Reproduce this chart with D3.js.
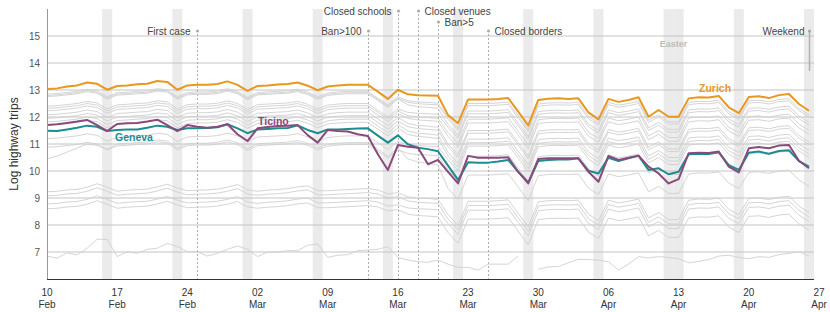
<!DOCTYPE html>
<html>
<head>
<meta charset="utf-8">
<script src="https://cdn.jsdelivr.net/npm/d3@7"></script>
<style>
  body { margin: 0; background: #fff; }
  svg { font-family: "Liberation Sans", Arial, sans-serif; }
</style>
</head>
<body>
<script>
// daily log highway trips per canton, 10 Feb - 26 Apr 2020 (one value per day)
var zurich = [
  13.04,13.06,13.13,13.17,13.28,13.23,13.01, 13.15,13.17,13.21,13.23,13.33,13.30,13.01,
  13.17,13.19,13.19,13.22,13.32,13.19,12.97, 13.15,13.17,13.20,13.22,13.28,13.16,12.99,
  13.13,13.17,13.19,13.19,13.19,12.94,12.67, 13.01,12.84,12.81,12.80,12.79,12.07,11.77,
  12.65,12.65,12.65,12.67,12.70,12.20,11.69, 12.63,12.68,12.69,12.67,12.69,12.17,11.91,
  12.67,12.56,12.63,12.73,12.01,12.26,12.01, 12.01,12.69,12.73,12.72,12.78,12.36,12.14,
  12.74,12.77,12.70,12.81,12.85,12.48,12.23];
var ticino = [
  11.70,11.73,11.78,11.83,11.89,11.70,11.48, 11.74,11.77,11.78,11.83,11.90,11.70,11.48,
  11.70,11.64,11.60,11.64,11.73,11.36,11.11, 11.58,11.63,11.67,11.68,11.70,11.33,11.05,
  11.52,11.48,11.46,11.36,11.30,10.62,10.04, 10.96,10.90,10.86,10.25,10.41,9.97,9.54,
  10.56,10.49,10.49,10.49,10.51,9.97,9.54, 10.44,10.47,10.47,10.47,10.47,9.97,9.60,
  10.56,10.41,10.49,10.57,10.16,9.91,9.54, 9.70,10.66,10.68,10.67,10.72,10.16,9.95,
  10.84,10.89,10.84,10.94,10.96,10.38,10.10];
var geneva = [
  11.49,11.48,11.54,11.60,11.68,11.64,11.48, 11.52,11.54,11.54,11.60,11.68,11.64,11.52,
  11.58,11.58,11.59,11.62,11.73,11.58,11.40, 11.54,11.56,11.58,11.59,11.69,11.52,11.40,
  11.54,11.54,11.56,11.57,11.58,11.31,11.05, 11.32,10.99,10.86,10.81,10.73,10.20,9.67,
  10.32,10.31,10.31,10.35,10.41,9.97,9.58, 10.37,10.41,10.43,10.43,10.47,10.01,9.91,
  10.49,10.37,10.47,10.56,10.04,10.10,9.88, 9.97,10.62,10.64,10.63,10.69,10.22,10.04,
  10.68,10.72,10.64,10.74,10.77,10.37,10.16];

// the other cantons, drawn in grey
var otherCantons = [
 [12.85,12.87,12.91,12.95,13.03,12.97,12.75, 12.90,12.92,12.95,12.97,13.05,13.01,12.75,
  12.91,12.93,12.93,12.96,13.05,12.95,12.73, 12.91,12.93,12.95,12.97,13.03,12.92,12.75,
  12.89,12.93,12.95,12.95,12.95,12.70,12.45, 12.75,12.60,12.56,12.54,12.51,12.00,11.60,
  12.50,12.50,12.50,12.52,12.55,12.05,11.55, 12.48,12.52,12.53,12.52,12.54,12.02,11.78,
  12.54,12.44,12.50,12.58,11.88,12.08,11.82, 11.82,12.54,12.58,12.57,12.62,12.20,12.00,
  12.60,12.62,12.56,12.65,12.68,12.32,12.08],
 [12.80,12.82,12.86,12.90,12.98,12.92,12.70, 12.85,12.87,12.90,12.92,13.00,12.96,12.70,
  12.86,12.88,12.88,12.91,13.00,12.90,12.68, 12.86,12.88,12.90,12.92,12.98,12.87,12.70,
  12.84,12.88,12.90,12.90,12.90,12.65,12.40, 12.70,12.54,12.49,12.47,12.45,11.92,11.52,
  12.42,12.42,12.42,12.44,12.47,11.97,11.47, 12.40,12.44,12.45,12.44,12.46,11.94,11.70,
  12.46,12.36,12.42,12.50,11.80,12.00,11.74, 11.74,12.46,12.50,12.49,12.54,12.12,11.92,
  12.52,12.54,12.48,12.57,12.60,12.24,12.00],
 [12.76,12.78,12.82,12.86,12.94,12.88,12.66, 12.81,12.83,12.86,12.88,12.96,12.92,12.66,
  12.82,12.84,12.84,12.87,12.96,12.86,12.64, 12.82,12.84,12.86,12.88,12.94,12.83,12.66,
  12.80,12.84,12.86,12.86,12.86,12.61,12.36, 12.66,12.45,12.38,12.36,12.32,11.72,11.32,
  12.22,12.22,12.22,12.24,12.27,11.77,11.27, 12.20,12.24,12.25,12.24,12.26,11.74,11.50,
  12.26,12.16,12.22,12.30,11.60,11.80,11.54, 11.54,12.26,12.30,12.29,12.34,11.92,11.72,
  12.32,12.34,12.28,12.37,12.40,12.04,11.80],
 [12.40,12.42,12.46,12.50,12.58,12.52,12.30, 12.45,12.47,12.50,12.52,12.60,12.56,12.30,
  12.46,12.48,12.48,12.51,12.60,12.50,12.28, 12.46,12.48,12.50,12.52,12.58,12.47,12.30,
  12.44,12.48,12.50,12.50,12.50,12.25,12.00, 12.30,12.17,12.14,12.12,12.10,11.62,11.22,
  12.12,12.12,12.12,12.14,12.17,11.67,11.17, 12.10,12.14,12.15,12.14,12.16,11.64,11.40,
  12.16,12.06,12.12,12.20,11.50,11.70,11.44, 11.44,12.16,12.20,12.19,12.24,11.82,11.62,
  12.22,12.24,12.18,12.27,12.30,11.94,11.70],
 [12.32,12.34,12.38,12.42,12.50,12.44,12.22, 12.37,12.39,12.42,12.44,12.52,12.48,12.22,
  12.38,12.40,12.40,12.43,12.52,12.42,12.20, 12.38,12.40,12.42,12.44,12.50,12.39,12.22,
  12.36,12.40,12.42,12.42,12.42,12.17,11.92, 12.22,12.05,12.00,11.98,11.95,11.42,11.02,
  11.92,11.92,11.92,11.94,11.97,11.47,10.97, 11.90,11.94,11.95,11.94,11.96,11.44,11.20,
  11.96,11.86,11.92,12.00,11.30,11.50,11.24, 11.24,11.96,12.00,11.99,12.04,11.62,11.42,
  12.02,12.04,11.98,12.07,12.10,11.74,11.50],
 [12.23,12.25,12.29,12.33,12.41,12.35,12.13, 12.28,12.30,12.33,12.35,12.43,12.39,12.13,
  12.29,12.31,12.31,12.34,12.43,12.33,12.11, 12.29,12.31,12.33,12.35,12.41,12.30,12.13,
  12.27,12.31,12.33,12.33,12.33,12.08,11.83, 12.13,11.95,11.89,11.87,11.84,11.28,10.88,
  11.78,11.78,11.78,11.80,11.83,11.33,10.83, 11.76,11.80,11.81,11.80,11.82,11.30,11.06,
  11.82,11.72,11.78,11.86,11.16,11.36,11.10, 11.10,11.82,11.86,11.85,11.90,11.48,11.28,
  11.88,11.90,11.84,11.93,11.96,11.60,11.36],
 [12.08,12.10,12.14,12.18,12.26,12.20,11.98, 12.13,12.15,12.18,12.20,12.28,12.24,11.98,
  12.14,12.16,12.16,12.19,12.28,12.18,11.96, 12.14,12.16,12.18,12.20,12.26,12.15,11.98,
  12.12,12.16,12.18,12.18,12.18,11.93,11.68, 11.98,11.76,11.69,11.66,11.62,11.00,10.60,
  11.50,11.50,11.50,11.52,11.55,11.05,10.55, 11.48,11.52,11.53,11.52,11.54,11.02,10.78,
  11.54,11.44,11.50,11.58,10.88,11.08,10.82, 10.82,11.54,11.58,11.57,11.62,11.20,11.00,
  11.60,11.62,11.56,11.65,11.68,11.32,11.08],
 [11.95,11.97,12.01,12.05,12.13,12.07,11.85, 12.00,12.02,12.05,12.07,12.15,12.11,11.85,
  12.01,12.03,12.03,12.06,12.15,12.05,11.83, 12.01,12.03,12.05,12.07,12.13,12.02,11.85,
  11.99,12.03,12.05,12.05,12.05,11.80,11.55, 11.85,11.64,11.57,11.54,11.51,10.90,10.50,
  11.40,11.40,11.40,11.42,11.45,10.95,10.45, 11.38,11.42,11.43,11.42,11.44,10.92,10.68,
  11.44,11.34,11.40,11.48,10.78,10.98,10.72, 10.72,11.44,11.48,11.47,11.52,11.10,10.90,
  11.50,11.52,11.46,11.55,11.58,11.22,10.98],
 [11.82,11.84,11.88,11.92,12.00,11.94,11.72, 11.87,11.89,11.92,11.94,12.02,11.98,11.72,
  11.88,11.90,11.90,11.93,12.02,11.92,11.70, 11.88,11.90,11.92,11.94,12.00,11.89,11.72,
  11.86,11.90,11.92,11.92,11.92,11.67,11.42, 11.72,11.48,11.40,11.37,11.33,10.68,10.28,
  11.18,11.18,11.18,11.20,11.23,10.73,10.23, 11.16,11.20,11.21,11.20,11.22,10.70,10.46,
  11.22,11.12,11.18,11.26,10.56,10.76,10.50, 10.50,11.22,11.26,11.25,11.30,10.88,10.68,
  11.28,11.30,11.24,11.33,11.36,11.00,10.76],
 [11.70,11.72,11.76,11.80,11.88,11.82,11.60, 11.75,11.77,11.80,11.82,11.90,11.86,11.60,
  11.76,11.78,11.78,11.81,11.90,11.80,11.58, 11.76,11.78,11.80,11.82,11.88,11.77,11.60,
  11.74,11.78,11.80,11.80,11.80,11.55,11.30, 11.60,11.35,11.28,11.25,11.20,10.55,10.15,
  11.05,11.05,11.05,11.07,11.10,10.60,10.10, 11.03,11.07,11.08,11.07,11.09,10.57,10.33,
  11.09,10.99,11.05,11.13,10.43,10.63,10.37, 10.37,11.09,11.13,11.12,11.17,10.75,10.55,
  11.15,11.17,11.11,11.20,11.23,10.87,10.63],
 [11.20,11.22,11.26,11.30,11.38,11.32,11.10, 11.25,11.27,11.30,11.32,11.40,11.36,11.10,
  11.26,11.28,11.28,11.31,11.40,11.30,11.08, 11.26,11.28,11.30,11.32,11.38,11.27,11.10,
  11.24,11.28,11.30,11.30,11.30,11.05,10.80, 11.10,10.97,10.94,10.92,10.90,10.42,10.02,
  10.92,10.92,10.92,10.94,10.97,10.47,9.97, 10.90,10.94,10.95,10.94,10.96,10.44,10.20,
  10.96,10.86,10.92,11.00,10.30,10.50,10.24, 10.24,10.96,11.00,10.99,11.04,10.62,10.42,
  11.02,11.04,10.98,11.07,11.10,10.74,10.50],
 [10.45,10.55,10.70,10.85,11.00,10.95,10.80, 11.00,11.02,11.05,11.07,11.15,11.11,10.85,
  11.01,11.03,11.03,11.06,11.15,11.05,10.83, 11.01,11.03,11.05,11.07,11.13,11.02,10.85,
  10.99,11.03,11.05,11.05,11.05,10.80,10.55, 10.85,10.45,10.33,10.29,10.21,9.35,8.95,
  9.85,9.85,9.85,9.87,9.90,9.40,8.90, 9.83,9.87,9.88,9.87,9.89,9.37,9.13,
  9.89,9.79,9.85,9.93,9.23,9.43,9.17, 9.17,9.89,9.93,9.92,9.97,9.55,9.35,
  9.95,9.97,9.91,10.00,10.03,9.67,9.43],
 [10.88,10.90,10.94,10.98,11.06,11.00,10.78, 10.93,10.95,10.98,11.00,11.08,11.04,10.78,
  10.94,10.96,10.96,10.99,11.08,10.98,10.76, 10.94,10.96,10.98,11.00,11.06,10.95,10.78,
  10.92,10.96,10.98,10.98,10.98,10.73,10.48, 10.78,10.65,10.61,10.59,10.57,10.05,9.65,
  10.55,10.55,10.55,10.57,10.60,10.10,9.60, 10.53,10.57,10.58,10.57,10.59,10.07,9.83,
  10.59,10.49,10.55,10.63,9.93,10.13,9.87, 9.87,10.59,10.63,10.62,10.67,10.25,10.05,
  10.65,10.67,10.61,10.70,10.73,10.37,10.13],
 [9.23,9.25,9.30,9.32,9.40,9.53,9.40, 9.25,9.29,9.31,9.33,9.41,9.51,9.37,
  9.27,9.29,9.30,9.33,9.40,9.50,9.30, 9.25,9.29,9.31,9.35,9.41,9.45,9.27,
  9.27,9.29,9.31,9.33,9.35,9.30,9.15, 9.20,9.04,9.00,8.98,8.95,8.38,7.98,
  8.88,8.88,8.88,8.90,8.93,8.43,7.93, 8.86,8.90,8.91,8.90,8.92,8.40,8.16,
  8.92,8.82,8.88,8.96,8.26,8.46,8.20, 8.20,8.92,8.96,8.95,9.00,8.58,8.38,
  8.98,9.00,8.94,9.03,9.06,8.70,8.46],
 [9.08,9.10,9.15,9.17,9.25,9.38,9.25, 9.10,9.14,9.16,9.18,9.26,9.36,9.22,
  9.12,9.14,9.15,9.18,9.25,9.35,9.15, 9.10,9.14,9.16,9.20,9.26,9.30,9.12,
  9.12,9.14,9.16,9.18,9.20,9.15,9.00, 9.05,8.89,8.84,8.82,8.80,8.22,7.82,
  8.72,8.72,8.72,8.74,8.77,8.27,7.77, 8.70,8.74,8.75,8.74,8.76,8.24,8.00,
  8.76,8.66,8.72,8.80,8.10,8.30,8.04, 8.04,8.76,8.80,8.79,8.84,8.42,8.22,
  8.82,8.84,8.78,8.87,8.90,8.54,8.30],
 [8.78,8.80,8.85,8.87,8.95,9.08,8.95, 8.80,8.84,8.86,8.88,8.96,9.06,8.92,
  8.82,8.84,8.85,8.88,8.95,9.05,8.85, 8.80,8.84,8.86,8.90,8.96,9.00,8.82,
  8.82,8.84,8.86,8.88,8.90,8.85,8.70, 8.75,8.63,8.60,8.59,8.56,8.05,7.65,
  8.55,8.55,8.55,8.57,8.60,8.10,7.60, 8.53,8.57,8.58,8.57,8.59,8.07,7.83,
  8.59,8.49,8.55,8.63,7.93,8.13,7.87, 7.87,8.59,8.63,8.62,8.67,8.25,8.05,
  8.65,8.67,8.61,8.70,8.73,8.37,8.13],
 [8.60,8.62,8.67,8.69,8.77,8.90,8.77, 8.62,8.66,8.68,8.70,8.78,8.88,8.74,
  8.64,8.66,8.67,8.70,8.77,8.87,8.67, 8.62,8.66,8.68,8.72,8.78,8.82,8.64,
  8.64,8.66,8.68,8.70,8.72,8.67,8.52, 8.57,8.40,8.35,8.33,8.30,7.72,7.32,
  8.22,8.22,8.22,8.24,8.27,7.77,7.27, 8.20,8.24,8.25,8.24,8.26,7.74,7.50,
  8.26,8.16,8.22,8.30,7.60,7.80,7.54, 7.54,8.26,8.30,8.29,8.34,7.92,7.72,
  8.32,8.34,8.28,8.37,8.40,8.04,7.80],
 [6.85,6.77,6.97,6.89,7.14,7.47,7.47, 6.83,7.01,6.95,7.10,7.14,7.32,7.20,
  7.01,7.01,6.85,6.95,7.10,7.22,7.10, 6.83,7.00,7.00,7.05,7.05,7.25,7.30,
  6.80,6.88,6.90,7.05,7.07,7.10,7.20, 6.80,6.70,6.64,6.62,6.70,6.55,6.43,
  6.43,6.33,6.55,6.55,6.55,6.85,null, 6.36,6.45,6.46,6.60,6.73,6.72,6.70,
  6.64,6.33,6.55,6.83,6.78,6.83,6.80, 6.75,6.60,6.65,6.72,6.85,6.88,6.80,
  6.75,6.83,6.80,6.90,6.95,7.01,6.85]
];

var highlighted = [
  { name: "Geneva", values: geneva, color: "#1d8c8f" },
  { name: "Ticino", values: ticino, color: "#8a4a7c" },
  { name: "Zurich", values: zurich, color: "#e9971f" }
];

var yTicks = [7, 8, 9, 10, 11, 12, 13, 14, 15];

var events = [
  { label: "First case", date: "2020-02-25" },
  { label: "Ban>100", date: "2020-03-13" },
  { label: "Closed schools", date: "2020-03-16" },
  { label: "Closed venues", date: "2020-03-18" },
  { label: "Ban>5", date: "2020-03-20" },
  { label: "Closed borders", date: "2020-03-25" }
];
// weekend / holiday days that get a shaded band
var shadedDays = ["2020-02-16", "2020-02-23", "2020-03-01", "2020-03-08", "2020-03-15",
  "2020-03-22", "2020-03-29", "2020-04-05", "2020-04-12", "2020-04-13", "2020-04-19", "2020-04-26"];

//label placement for the events: row and side
var eventLayout = {
  "First case": { y: 31, side: "left" },
  "Ban>100": { y: 31, side: "left" },
  "Closed schools": { y: 11, side: "left" },
  "Closed venues": { y: 11, side: "right" },
  "Ban>5": { y: 22, side: "right" },
  "Closed borders": { y: 31, side: "right" }
};
var labelLayout = {
  Zurich: { x: 699, y: 88 },
  Ticino: { x: 258, y: 121 },
  Geneva: { x: 115, y: 137 }
};

var parse = d3.utcParse("%Y-%m-%d");
var start = parse("2020-02-10");
var end = parse("2020-04-27");
var days = d3.utcDay.range(start, end);

var width = 830, height = 312;
var x = d3.scaleUtc().domain([start, end]).range([47, 819]);
var y = d3.scaleLinear().domain([6, 16]).range([279, 9]);
var dayW = x(d3.utcDay.offset(start, 1)) - x(start);
var plotRight = x(end) - dayW / 2;

var svg = d3.select("body").append("svg")
    .attr("width", width)
    .attr("height", height);

//shaded weekend bands
svg.append("g").selectAll("rect")
    .data(shadedDays.map(parse))
  .enter().append("rect")
    .attr("x", d => x(d) - dayW / 2)
    .attr("width", dayW)
    .attr("y", y(16))
    .attr("height", y(6) - y(16))
    .attr("fill", "#ebebeb");

//grid
svg.append("g").selectAll("line")
    .data(yTicks)
  .enter().append("line")
    .attr("x1", x(start))
    .attr("x2", plotRight)
    .attr("y1", d => y(d))
    .attr("y2", d => y(d))
    .attr("stroke", "#c4c4c4")
    .attr("stroke-width", 1);

svg.append("g").selectAll("text")
    .data(yTicks)
  .enter().append("text")
    .attr("x", 40)
    .attr("y", d => y(d))
    .attr("dy", "0.35em")
    .attr("text-anchor", "end")
    .attr("font-size", 10)
    .attr("fill", "#555")
    .text(d => d);

svg.append("text")
    .attr("class", "easter")
    .attr("x", x(parse("2020-04-12")) + dayW / 2)
    .attr("y", 44)
    .attr("dy", "0.35em")
    .attr("text-anchor", "middle")
    .attr("font-size", 9)
    .attr("font-weight", "bold")
    .attr("fill", "#bdbdbd")
    .text("Easter");

//event markers
var ev = svg.append("g").selectAll("g")
    .data(events)
  .enter().append("g")
    .attr("transform", d => "translate(" + Math.round(x(parse(d.date))) + ".5,0)");
ev.append("line")
    .attr("y1", d => eventLayout[d.label].y + 3)
    .attr("y2", y(6))
    .attr("stroke", "#9a9a9a")
    .attr("stroke-width", 0.8)
    .attr("stroke-dasharray", "2,2");
ev.append("circle")
    .attr("cy", d => eventLayout[d.label].y)
    .attr("r", 1.5)
    .attr("fill", "#a8a8a8");
ev.append("text")
    .attr("x", d => eventLayout[d.label].side === "left" ? -7 : 6)
    .attr("y", d => eventLayout[d.label].y)
    .attr("dy", "0.35em")
    .attr("text-anchor", d => eventLayout[d.label].side === "left" ? "end" : "start")
    .attr("font-size", 10)
    .attr("fill", "#444")
    .text(d => d.label);

//weekend legend marker on the last band
var wx = Math.round(x(parse("2020-04-26"))) + 0.5;
svg.append("line")
    .attr("x1", wx).attr("x2", wx)
    .attr("y1", 31).attr("y2", 71)
    .attr("stroke", "#b0b0b0")
    .attr("stroke-width", 1.5);
svg.append("circle")
    .attr("cx", wx).attr("cy", 31)
    .attr("r", 1.6)
    .attr("fill", "#a8a8a8");
svg.append("text")
    .attr("x", wx - 5)
    .attr("y", 31)
    .attr("dy", "0.35em")
    .attr("text-anchor", "end")
    .attr("font-size", 10)
    .attr("fill", "#444")
    .text("Weekend");

var line = d3.line()
    .defined(d => d != null)
    .x((d, i) => x(days[i]))
    .y(d => y(d));

svg.append("g").selectAll("path")
    .data(otherCantons)
  .enter().append("path")
    .attr("d", line)
    .attr("fill", "none")
    .attr("stroke", "#cfcfcf")
    .attr("stroke-width", 0.9);

svg.append("g").selectAll("path")
    .data(highlighted)
  .enter().append("path")
    .attr("d", d => line(d.values))
    .attr("fill", "none")
    .attr("stroke", d => d.color)
    .attr("stroke-width", 2)
    .attr("stroke-linejoin", "round");

svg.append("g").selectAll("text")
    .data(highlighted)
  .enter().append("text")
    .attr("x", d => labelLayout[d.name].x)
    .attr("y", d => labelLayout[d.name].y)
    .attr("dy", "0.35em")
    .attr("font-size", 10.5)
    .attr("font-weight", "bold")
    .attr("fill", d => d.color)
    .text(d => d.name);

//axes
svg.append("line")
    .attr("x1", 47.5).attr("x2", 47.5)
    .attr("y1", y(16)).attr("y2", y(6))
    .attr("stroke", "#999");
svg.append("line")
    .attr("x1", 47).attr("x2", plotRight)
    .attr("y1", y(6) + 0.5).attr("y2", y(6) + 0.5)
    .attr("stroke", "#333");

var xTicks = d3.utcMonday.range(start, d3.utcDay.offset(end, 1));
var xt = svg.append("g").selectAll("text")
    .data(xTicks)
  .enter().append("text")
    .attr("x", d => x(d))
    .attr("y", 292)
    .attr("text-anchor", "middle")
    .attr("font-size", 10)
    .attr("fill", "#333");
xt.append("tspan")
    .attr("x", d => x(d))
    .attr("dy", "0.35em")
    .text(d3.utcFormat("%d"));
xt.append("tspan")
    .attr("x", d => x(d))
    .attr("dy", "1.2em")
    .text(d3.utcFormat("%b"));

svg.append("text")
    .attr("transform", "translate(14," + (y(16) + y(6)) / 2 + ") rotate(-90)")
    .attr("dy", "0.35em")
    .attr("text-anchor", "middle")
    .attr("font-size", 12)
    .attr("fill", "#333")
    .text("Log highway trips");
</script>
</body>
</html>
